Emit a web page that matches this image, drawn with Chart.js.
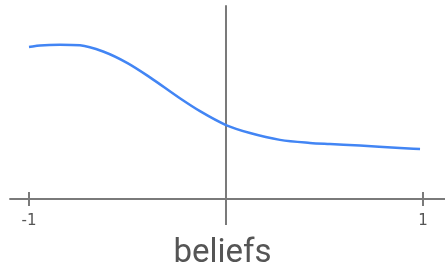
<!DOCTYPE html>
<html lang="en">
<head>
  <meta charset="UTF-8">
  <title>beliefs</title>
  <script src="https://cdn.jsdelivr.net/npm/chart.js"></script>
  <style>
    html, body {
      margin: 0;
      padding: 0;
      background: #ffffff;
    }
    #wrap {
      width: 445px;
      height: 270px;
    }
  </style>
</head>
<body>
  <div id="wrap"><canvas id="beliefChart"></canvas></div>

  <script>
    // curve (x from -1 to 1, y in arbitrary units, axis at 0)
    const xValues = [-1.0, -0.944, -0.843, -0.741, -0.624, -0.500, -0.386, -0.234, -0.132, 0, 0.122, 0.274, 0.426, 0.528, 0.680, 0.883, 0.985];
    const yValues = [0.800, 0.808, 0.812, 0.809, 0.776, 0.715, 0.640, 0.530, 0.462, 0.389, 0.347, 0.311, 0.295, 0.289, 0.281, 0.268, 0.263];

    const tickValues = [-1, 1];
    const tickLabels = ["-1", "1"];
    const axisXRange = [-1.10, 1.12];   // extent of the horizontal axis line
    const axisYRange = [-0.137, 1.02];  // extent of the vertical axis line
    const xLabel = "beliefs";

    const points = xValues.map((x, i) => ({ x: x, y: yValues[i] }));

    // hand drawn looking axes, placed with the chart scales
    const axesPlugin = {
      id: "axes",
      beforeDatasetsDraw(chart) {
        const { ctx, scales: { x, y } } = chart;
        const y0 = y.getPixelForValue(0);
        const x0 = x.getPixelForValue(0);
        ctx.save();
        ctx.strokeStyle = "#7a7a7a";
        ctx.lineWidth = 2;
        ctx.beginPath();
        ctx.moveTo(x.getPixelForValue(axisXRange[0]), y0);
        ctx.lineTo(x.getPixelForValue(axisXRange[1]), y0);
        ctx.moveTo(x0, y.getPixelForValue(axisYRange[1]));
        ctx.lineTo(x0, y.getPixelForValue(axisYRange[0]));
        tickValues.forEach(v => {
          const px = x.getPixelForValue(v);
          ctx.moveTo(px, y0 - 7);
          ctx.lineTo(px, y0 + 7);
        });
        ctx.stroke();

        ctx.fillStyle = "#555";
        ctx.font = "15px 'DejaVu Sans'";
        ctx.textAlign = "center";
        ctx.textBaseline = "middle";
        tickValues.forEach((v, i) => {
          ctx.fillText(tickLabels[i], x.getPixelForValue(v), y0 + 22);
        });
        ctx.restore();
      }
    };

    const ctx = document.getElementById("beliefChart").getContext("2d");
    new Chart(ctx, {
      type: "line",
      data: {
        datasets: [{
          data: points,
          borderColor: "#4285f4",
          borderWidth: 2.5,
          pointRadius: 0,
          fill: false,
          cubicInterpolationMode: "monotone"
        }]
      },
      options: {
        responsive: true,
        maintainAspectRatio: false,
        animation: false,
        layout: { padding: 0 },
        plugins: {
          legend: { display: false },
          tooltip: { enabled: false },
          title: {
            display: true,
            position: "bottom",
            text: xLabel,
            color: "#555",
            font: { family: "Roboto", size: 33, weight: "normal", lineHeight: 1 },
            padding: { top: 0, bottom: 0 }
          }
        },
        scales: {
          x: { type: "linear", display: false, min: -1.1472, max: 1.1117 },
          y: { type: "linear", display: false, min: -0.2, max: 1.047 }
        }
      },
      plugins: [axesPlugin]
    });
  </script>
</body>
</html>
